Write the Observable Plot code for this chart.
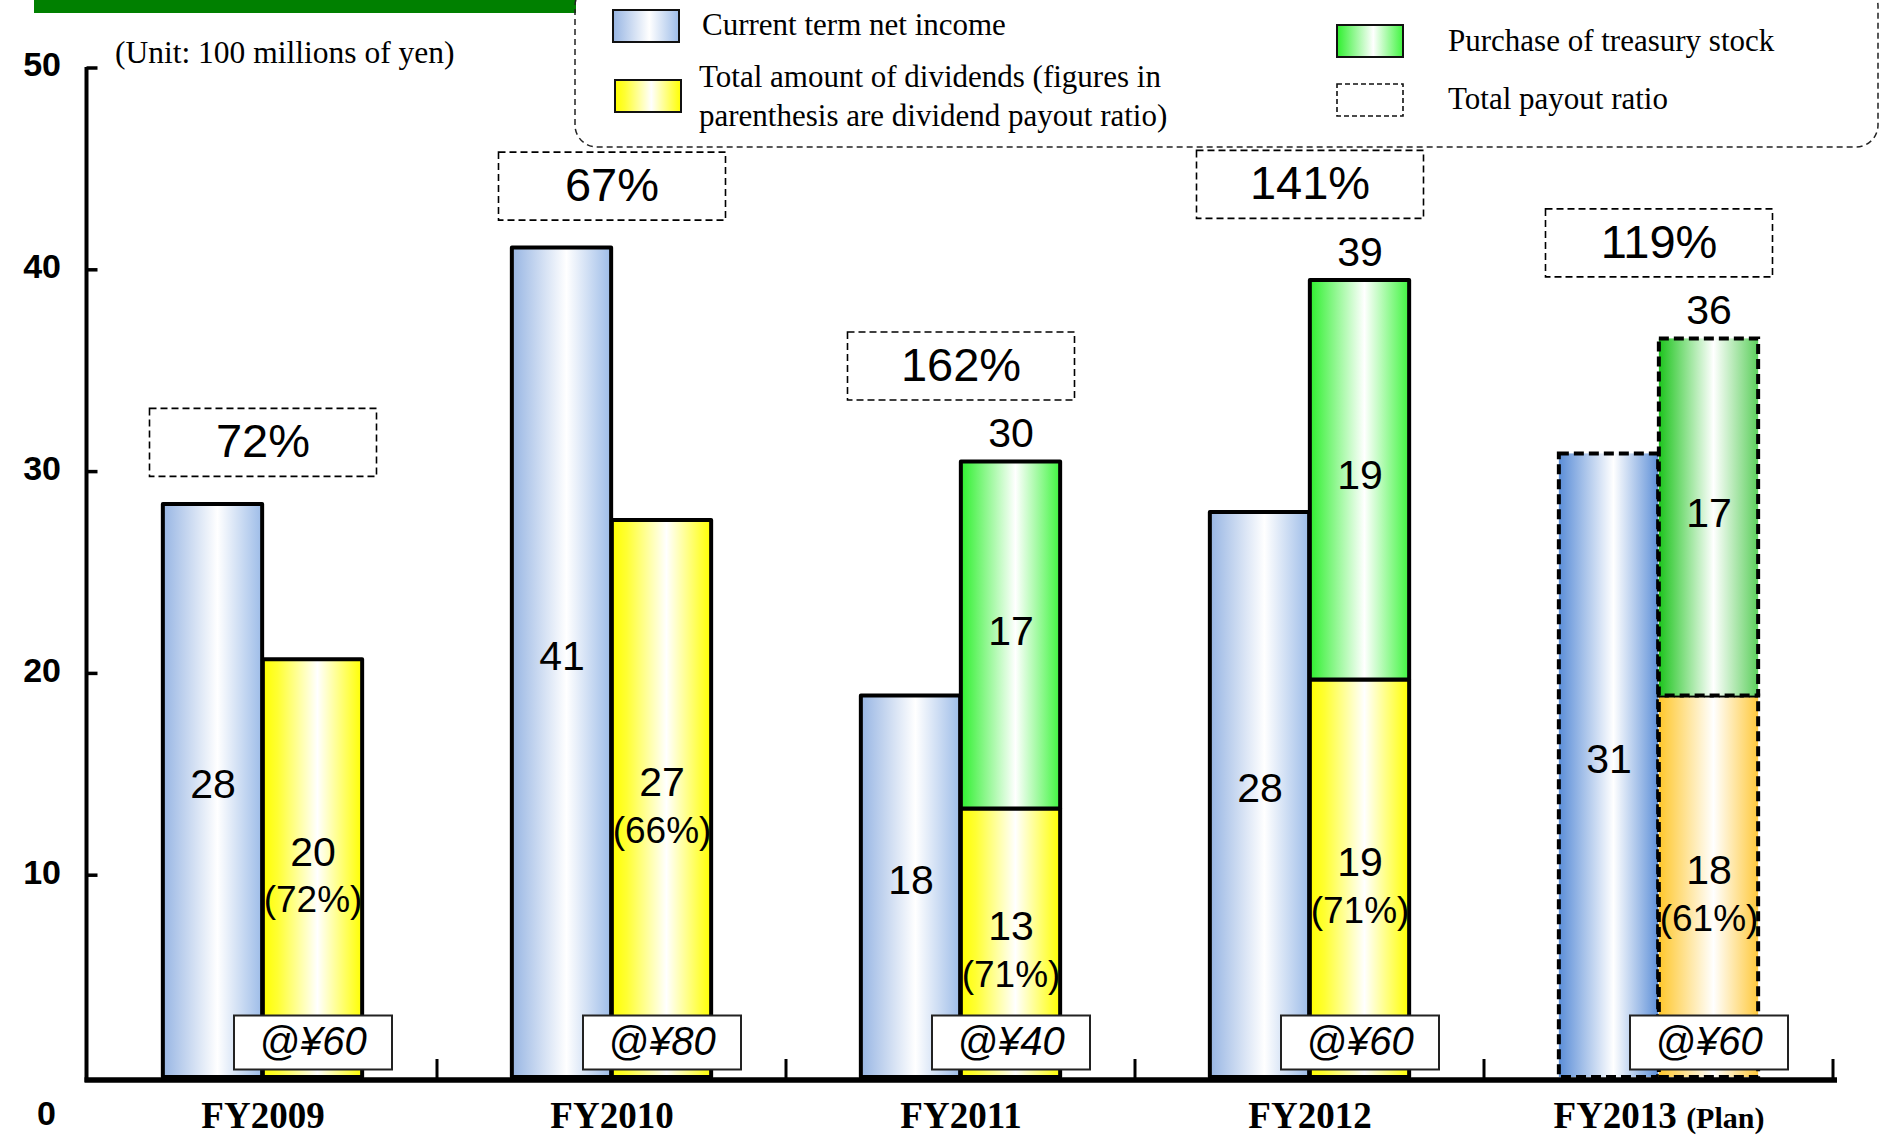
<!DOCTYPE html>
<html>
<head>
<meta charset="utf-8">
<script src="https://cdn.jsdelivr.net/npm/d3@7"></script>
<script src="https://cdn.jsdelivr.net/npm/@observablehq/plot@0.6"></script>
<style>
  body { margin: 0; background: #fff; }
  #chart { position: relative; width: 1884px; height: 1135px; overflow: hidden; }
  #chart svg { display: block; }
</style>
</head>
<body>
<div id="chart"></div>
<script>
// ---------- data ----------
const categories = ["FY2009", "FY2010", "FY2011", "FY2012", "FY2013"];
const categoryLabels = ["FY2009", "FY2010", "FY2011", "FY2012", "FY2013 (Plan)"];
const netIncome = [28.4, 41.1, 18.9, 28.0, 30.9];
const dividends = [20.7, 27.6, 13.3, 19.7, 18.9];
const treasury = [0, 0, 17.2, 19.8, 17.7];
const netIncomeLabels = ["28", "41", "18", "28", "31"];
const dividendLabels = ["20", "27", "13", "19", "18"];
const dividendRatioLabels = ["(72%)", "(66%)", "(71%)", "(71%)", "(61%)"];
const treasuryLabels = ["", "", "17", "19", "17"];
const payoutTotalLabels = ["", "", "30", "39", "36"];
const totalPayoutRatio = ["72%", "67%", "162%", "141%", "119%"];
const dividendPerShare = ["@¥60", "@¥80", "@¥40", "@¥60", "@¥60"];
const isPlan = [false, false, false, false, true];
const yTickValues = [10, 20, 30, 40, 50];
const yZeroTick = [0];
const legendItems = [
  "Current term net income",
  "Total amount of dividends (figures in",
  "parenthesis are dividend payout ratio)",
  "Purchase of treasury stock",
  "Total payout ratio"
];
const unitText = "(Unit: 100 millions of yen)";

const data = categories.map((c, i) => ({
  cat: c, label: categoryLabels[i], income: netIncome[i], div: dividends[i], tre: treasury[i],
  incomeLabel: netIncomeLabels[i], divLabel: dividendLabels[i], ratioLabel: dividendRatioLabels[i],
  treLabel: treasuryLabels[i], totalLabel: payoutTotalLabels[i], payout: totalPayoutRatio[i],
  dps: dividendPerShare[i], plan: isPlan[i]
}));

// ---------- layout / styles ----------
const W = 1884, H = 1135;
const mL = 86.5, mR = 49, mT = 68, mB = 58;
const bw = (W - mL - mR) / categories.length;
const barW = 100;
const leftBar = {insetLeft: bw / 2 - barW, insetRight: bw / 2};
const rightBar = {insetLeft: bw / 2, insetRight: bw / 2 - barW};
const solid = {stroke: "black", strokeWidth: 4, strokeLinejoin: "round"};
const dashed = {stroke: "black", strokeWidth: 4, strokeDasharray: "10,5"};
const sans = "'Liberation Sans', Arial, sans-serif";
const serif = "'Liberation Serif', 'Times New Roman', serif";
const rectSym = (w, h) => ({
  draw(ctx) { ctx.moveTo(-w / 2, -h / 2); ctx.lineTo(w / 2, -h / 2); ctx.lineTo(w / 2, h / 2); ctx.lineTo(-w / 2, h / 2); ctx.closePath(); }
});

const actual = data.filter(d => !d.plan);
const plan = data.filter(d => d.plan);
const stacked = data.filter(d => d.tre > 0);
const unstacked = data.filter(d => !(d.tre > 0));
const topOf = d => Math.max(d.income, d.div + d.tre);

const plot = Plot.plot({
  width: W, height: H,
  marginLeft: mL, marginRight: mR, marginTop: mT, marginBottom: mB,
  style: {background: "white", overflow: "visible"},
  x: {type: "band", domain: categories, paddingInner: 0, paddingOuter: 0, axis: null},
  y: {domain: [0, 50], axis: null},
  marks: [
    // net income bars
    Plot.barY(actual, {x: "cat", y1: 0, y2: "income", ...leftBar, fill: "url(#gBlue)", ...solid}),
    Plot.barY(plan, {x: "cat", y1: 0, y2: "income", ...leftBar, fill: "url(#gBluePlan)", ...dashed}),
    // dividends
    Plot.barY(actual, {x: "cat", y1: 0, y2: "div", ...rightBar, fill: "url(#gYellow)", ...solid}),
    Plot.barY(plan, {x: "cat", y1: 0, y2: "div", ...rightBar, fill: "url(#gOrange)", ...dashed}),
    // treasury stock
    Plot.barY(actual.filter(d => d.tre > 0), {x: "cat", y1: "div", y2: d => d.div + d.tre, ...rightBar, fill: "url(#gGreen)", ...solid}),
    Plot.barY(plan.filter(d => d.tre > 0), {x: "cat", y1: "div", y2: d => d.div + d.tre, ...rightBar, fill: "url(#gGreenPlan)", ...dashed}),

    // labels inside bars
    Plot.text(data, {x: "cat", y: d => d.income / 2, dx: -barW / 2, dy: -6, text: "incomeLabel", fontSize: 41, fontFamily: sans, fill: "black"}),
    Plot.text(data, {x: "cat", y: d => d.div / 2, dx: barW / 2, dy: -16, text: "divLabel", fontSize: 41, fontFamily: sans, fill: "black"}),
    Plot.text(data, {x: "cat", y: d => d.div / 2, dx: barW / 2, dy: 32, text: "ratioLabel", fontSize: 37, fontFamily: sans, fill: "black"}),
    Plot.text(stacked, {x: "cat", y: d => d.div + d.tre / 2, dx: barW / 2, dy: -4, text: "treLabel", fontSize: 41, fontFamily: sans, fill: "black"}),
    Plot.text(stacked, {x: "cat", y: d => d.div + d.tre, dx: barW / 2, dy: -28, text: "totalLabel", fontSize: 41, fontFamily: sans, fill: "black"}),

    // total payout ratio boxes
    Plot.dot(unstacked, {x: "cat", y: topOf, dy: -62, symbol: rectSym(227, 68), fill: "white", stroke: "black", strokeWidth: 1.6, strokeDasharray: "7,4"}),
    Plot.text(unstacked, {x: "cat", y: topOf, dy: -62, text: "payout", fontSize: 47, fontFamily: sans, fill: "black"}),
    Plot.dot(stacked, {x: "cat", y: topOf, dy: -96, symbol: rectSym(227, 68), fill: "white", stroke: "black", strokeWidth: 1.6, strokeDasharray: "7,4"}),
    Plot.text(stacked, {x: "cat", y: topOf, dy: -96, text: "payout", fontSize: 47, fontFamily: sans, fill: "black"}),

    // dividend per share boxes
    Plot.dot(data, {x: "cat", y: 0, dx: barW / 2, dy: -35, symbol: rectSym(158, 54), fill: "white", stroke: "#222", strokeWidth: 2}),
    Plot.text(data, {x: "cat", y: 0, dx: barW / 2, dy: -35, text: "dps", fontSize: 40, fontStyle: "italic", fontFamily: sans, fill: "black"}),

    // y tick labels
    Plot.text(yTickValues, {y: d => d, text: d => String(d), frameAnchor: "left", textAnchor: "end", dx: -26, dy: -3, fontSize: 34, fontWeight: "bold", fontFamily: sans, fill: "black"}),
    Plot.text(yZeroTick, {y: d => d, text: d => String(d), frameAnchor: "left", textAnchor: "end", dx: -31, dy: 37, fontSize: 34, fontWeight: "bold", fontFamily: sans, fill: "black"}),

    // x category labels
    Plot.text(data, {x: "cat", y: 0, dy: 39, text: "label", fontSize: 37, fontWeight: "bold", fontFamily: serif, fill: "black"})
  ]
});

document.getElementById("chart").appendChild(plot);

// ---------- decorations drawn through the plot's scales ----------
const svg = d3.select(plot);
const xs = plot.scale("x"), ys = plot.scale("y");
const gradients = [
  {id: "gBlue", stops: [[0, "#97b5e3"], [0.55, "#ffffff"], [1, "#9dbce8"]]},
  {id: "gBluePlan", stops: [[0, "#5a8dd7"], [0.55, "#ffffff"], [1, "#5e90d8"]]},
  {id: "gYellow", stops: [[0, "#ffff00"], [0.15, "#ffff33"], [0.55, "#ffffff"], [0.88, "#ffff44"], [1, "#ffff00"]]},
  {id: "gOrange", stops: [[0, "#ffc72c"], [0.55, "#ffffff"], [1, "#ffc93c"]]},
  {id: "gGreen", stops: [[0, "#2ef02e"], [0.55, "#ffffff"], [1, "#40f540"]]},
  {id: "gGreenPlan", stops: [[0, "#1cc41c"], [0.55, "#ffffff"], [1, "#5ccf5c"]]}
];
const defs = svg.insert("defs", ":first-child");
gradients.forEach(g => {
  const lg = defs.append("linearGradient").attr("id", g.id).attr("x1", 0).attr("x2", 1).attr("y1", 0).attr("y2", 0);
  g.stops.forEach(([o, c]) => lg.append("stop").attr("offset", o).attr("stop-color", c));
});

const x0 = xs.range[0], x1 = xs.range[1];
const y0 = ys.apply(0), yTop = ys.apply(50);
const axes = svg.append("g").attr("stroke", "black");
axes.append("line").attr("x1", x0).attr("x2", x0).attr("y1", yTop - 1).attr("y2", y0 + 5).attr("stroke-width", 4);
yTickValues.forEach(t => axes.append("line").attr("x1", x0).attr("x2", x0 + 11).attr("y1", ys.apply(t)).attr("y2", ys.apply(t)).attr("stroke-width", 3.5));
axes.append("line").attr("x1", x0 - 2).attr("x2", x1 + 2).attr("y1", y0 + 3).attr("y2", y0 + 3).attr("stroke-width", 5.5);
categories.forEach(c => {
  const xb = xs.apply(c) + xs.bandwidth;
  axes.append("line").attr("x1", xb).attr("x2", xb).attr("y1", y0 + 3).attr("y2", y0 - 18).attr("stroke-width", 3);
});

// "(Plan)" in a smaller size
svg.selectAll("text").filter(function () { return this.textContent === "FY2013 (Plan)"; }).each(function () {
  const t = d3.select(this);
  t.text(null);
  t.append("tspan").text("FY2013 ");
  t.append("tspan").attr("font-size", 30).text("(Plan)");
});

// header: green bar, unit note, legend
const deco = svg.append("g").attr("text-anchor", "start");
deco.append("rect").attr("x", 34).attr("y", 0).attr("width", 542).attr("height", 13).attr("fill", "#008000");
deco.append("text").attr("x", 115).attr("y", 56).attr("dominant-baseline", "middle").attr("text-anchor", "start")
  .attr("font-family", serif).attr("font-size", 31.5).attr("fill", "black").text(unitText);

deco.append("rect").attr("x", 575).attr("y", -16).attr("width", 1303).attr("height", 163).attr("rx", 22)
  .attr("fill", "none").attr("stroke", "#222").attr("stroke-width", 1.5).attr("stroke-dasharray", "6,4");

const sw = [
  {x: 613, y: 10, fill: "url(#gBlue)"},
  {x: 615, y: 80, fill: "url(#gYellow)"},
  {x: 1337, y: 25, fill: "url(#gGreen)"}
];
sw.forEach(s => deco.append("rect").attr("x", s.x).attr("y", s.y).attr("width", 66).attr("height", 32)
  .attr("fill", s.fill).attr("stroke", "#111").attr("stroke-width", 2));
deco.append("rect").attr("x", 1337).attr("y", 84).attr("width", 66).attr("height", 32)
  .attr("fill", "none").attr("stroke", "#111").attr("stroke-width", 1.6).attr("stroke-dasharray", "5,3");

const lt = [
  {x: 702, y: 28}, {x: 699, y: 80}, {x: 699, y: 119}, {x: 1448, y: 44}, {x: 1448, y: 102}
];
lt.forEach((p, i) => deco.append("text").attr("x", p.x).attr("y", p.y).attr("dominant-baseline", "middle").attr("text-anchor", "start")
  .attr("font-family", serif).attr("font-size", 31).attr("fill", "black").text(legendItems[i]));
</script>
</body>
</html>
